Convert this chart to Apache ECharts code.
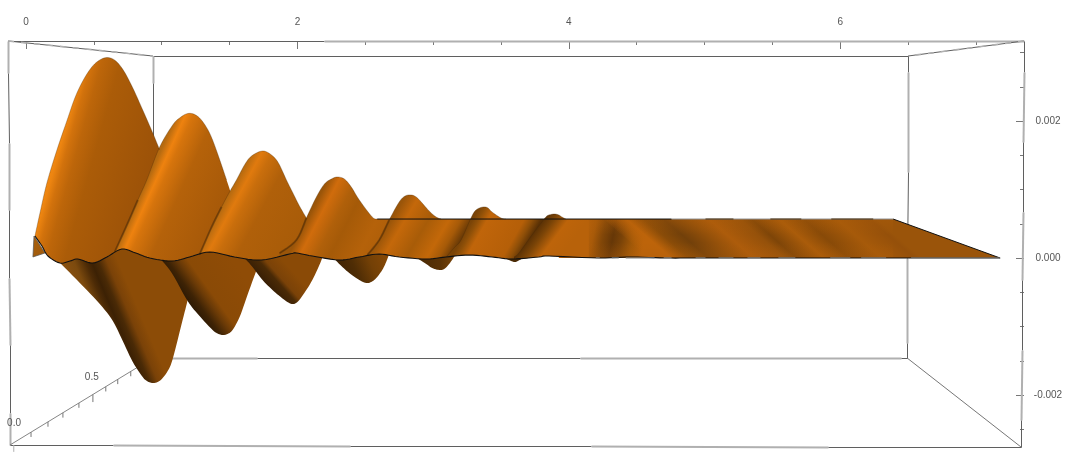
<!DOCTYPE html>
<html>
<head>
<meta charset="utf-8">
<script src="https://cdn.jsdelivr.net/npm/echarts@6/dist/echarts.min.js"></script>
<style>html,body{margin:0;padding:0;background:#fff}#c{width:1082px;height:465px}</style>
</head>
<body>
<div id="c"></div>
<script>
// ---- axis extents and ticks (x, and z in real units) ----
const xMin = -0.1326, xMax = 7.354;
const zMin = -0.002759, zMax = 0.003168;
const xMajorTicks = [0, 2, 4, 6];
const xMinorTicks = [0.5, 1, 1.5, 2.5, 3, 3.5, 4.5, 5, 5.5, 6.5, 7];
const zMajorTicks = [-0.002, 0, 0.002];
const zMinorTicks = [-0.0025, -0.0015, -0.001, -0.0005, 0.0005, 0.001, 0.0015, 0.0025, 0.003];

// ---- surface curves; x in axis units, z in thousandths ----
const centerX = [0.066,0.118,0.162,0.25,0.324,0.382,0.493,0.596,0.706,0.809,0.912,1.074,1.206,1.353,1.537,1.735,1.941,1.993,2.11,2.309,2.456,2.603,2.75,2.949,3.096,3.265,3.434,3.581,3.779,3.853,4.221,4.463,4.713,4.956,5.449,6.39,7.178];
const centerZ = [0.321,0.175,0.029,-0.073,-0.044,-0.015,-0.073,0.015,0.131,0.073,0,-0.044,0.015,0.088,0.015,-0.029,0.058,0.073,0.029,-0.029,0.015,0.058,0.015,-0.015,0.015,0.044,0.015,-0.015,0.015,0.029,0,0.015,0,0,0,0,0];

const crest1X = [0.066,0.103,0.154,0.228,0.301,0.36,0.419,0.485,0.544,0.603,0.662,0.721,0.787,0.86,0.934,0.985,1.06];
const crest1Z = [0.321,0.657,1.095,1.577,2.0,2.336,2.585,2.788,2.891,2.927,2.876,2.73,2.482,2.161,1.825,1.577,1.58];
const crest2X = [0.654,0.75,0.824,0.89,0.985,1.081,1.132,1.191,1.25,1.309,1.375,1.478,1.507,1.61];
const crest2Z = [0.09,0.511,0.847,1.139,1.62,1.942,2.044,2.109,2.088,1.971,1.723,1.139,0.964,0.964];
const crest3X = [1.279,1.368,1.441,1.5,1.551,1.61,1.662,1.743,1.809,1.86,1.919,1.963,2.015,2.066,2.199];
const crest3Z = [0.05,0.453,0.745,0.964,1.139,1.358,1.489,1.562,1.504,1.387,1.139,0.964,0.759,0.584,0.584];
const crest4X = [1.868,1.993,2.066,2.14,2.199,2.25,2.294,2.346,2.397,2.456,2.551,2.588,2.75];
const crest4Z = [0.07,0.263,0.584,0.891,1.08,1.153,1.182,1.153,1.036,0.847,0.599,0.569,0.569];
const crest5X = [2.515,2.603,2.676,2.75,2.794,2.838,2.875,2.912,2.971,3.022,3.059,3.338];
const crest5Z = [0.044,0.263,0.555,0.818,0.905,0.92,0.891,0.818,0.686,0.599,0.569,0.569];
const crest6X = [3.096,3.154,3.206,3.279,3.316,3.368,3.404,3.434,3.5,3.537,3.926];
const crest6Z = [0.015,0.146,0.263,0.584,0.701,0.745,0.73,0.672,0.584,0.569,0.569];
const crest7X = [3.596,3.632,3.728,3.801,3.838,3.868,3.897,3.926,3.949,3.978,4.147];
const crest7Z = [0.015,0.073,0.336,0.526,0.613,0.635,0.642,0.628,0.599,0.569,0.569];

const trough1X = [0.25,0.397,0.544,0.64,0.713,0.787,0.86,0.897,0.934,0.971,1.007,1.044,1.081,1.154,1.191,1.228,1.257];
const trough1Z = [-0.07,-0.365,-0.672,-0.92,-1.212,-1.518,-1.737,-1.803,-1.825,-1.81,-1.752,-1.65,-1.474,-0.905,-0.613,-0.248,0];
const trough2X = [0.985,1.074,1.191,1.279,1.375,1.412,1.449,1.485,1.522,1.574,1.632,1.699,1.735];
const trough2Z = [0,-0.219,-0.628,-0.847,-1.051,-1.102,-1.124,-1.109,-1.051,-0.861,-0.54,-0.175,0];
const trough3X = [1.61,1.669,1.743,1.816,1.868,1.926,1.963,2,2.051,2.11,2.162,2.191];
const trough3Z = [0,-0.131,-0.321,-0.467,-0.555,-0.642,-0.672,-0.642,-0.511,-0.321,-0.102,0.044];
const trough4X = [2.272,2.324,2.382,2.456,2.507,2.544,2.581,2.625,2.654,2.676];
const trough4Z = [-0.015,-0.117,-0.219,-0.321,-0.365,-0.35,-0.292,-0.175,-0.058,0.058];
const trough5X = [2.882,2.949,2.993,3.044,3.081,3.118,3.154];
const trough5Z = [0,-0.088,-0.146,-0.175,-0.161,-0.088,0.015];
const trough6X = [3.529,3.574,3.603,3.625,3.662];
const trough6Z = [0,-0.044,-0.058,-0.044,0];

const cornerTipX = [0.059,0.051,0.14];
const cornerTipZ = [0.321,0.015,0.073];
const flatMidX = [3.926,4.809,4.809,3.926];
const flatMidZ = [0.569,0.569,0,0];
const flatEndX = [4.257,6.39,7.178,4.588];
const flatEndZ = [0.569,0.569,0,0];
const flatVeilX = [4.12,6.39,6.39,4.12];
const flatVeilZ = [0.569,0.569,0,0];

// ---- box corners and the depth axis ----
const boxOuterX = [-0.132,7.354,7.332,-0.118];  // TL TR BR BL
const boxOuterZ = [3.168,3.168,-2.759,-2.73];
const boxBackX = [0.934,6.5,6.493,0.934];
const boxBackZ = [2.949,2.949,-1.46,-1.46];
const depthTickX = [0.037,0.162,0.272,0.39,0.493,0.588,0.676,0.772];
const depthTickZ = [-2.543,-2.393,-2.26,-2.117,-1.993,-1.878,-1.771,-1.656];
const depthLabels = ['0.0','0.5'];
const depthLabelX = [-0.088,0.485];
const depthLabelZ = [-2.409,-1.737];

// ---- pale dashes laid over the two long surface edges ----
const bottomPaleX = [4.199,4.228,4.316,4.368,4.419,4.632,4.699,4.757,4.934,5.007,5.103,5.213,5.316,5.412,5.544,5.669,5.926,6.074,6.154,6.338,6.522,7.178];
const topDarkX = [5.007,5.213,5.485,5.713,5.934,6.243];

// ---- styles ----
const FONT = '"Liberation Sans", Arial, sans-serif';
const TXT = '#555';
const DARK = '#5f5f5f', LIGHT = '#b0b0b0';

function zip(xs,zs){ return xs.map((x,i)=>[x,zs[i]]); }
// Catmull-Rom drawing of the read points, so the outline is a curve and not a chain of chords
function curve(pts){
  const out=[]; const n=pts.length;
  for(let i=0;i<n-1;i++){
    const p0=pts[Math.max(i-1,0)],p1=pts[i],p2=pts[i+1],p3=pts[Math.min(i+2,n-1)];
    for(let k=0;k<6;k++){
      const t=k/6,t2=t*t,t3=t2*t;
      out.push([0,1].map(d=>.5*(2*p1[d]+(p2[d]-p0[d])*t+(2*p0[d]-5*p1[d]+4*p2[d]-p3[d])*t2+(3*p1[d]-p0[d]-3*p2[d]+p3[d])*t3)));
    }
  }
  out.push(pts[n-1]);
  return out;
}
const centerCurve = curve(zip(centerX,centerZ));
function centerAt(x){
  for(let i=0;i<centerCurve.length-1;i++){
    const a=centerCurve[i],b=centerCurve[i+1];
    if(x>=a[0]&&x<=b[0]) return a[1]+(x-a[0])/((b[0]-a[0])||1)*(b[1]-a[1]);
  }
  return 0;
}
function upperPoly(xs,zs){
  const raw=zip(xs,zs), cut=raw.pop();
  const pts=curve(raw); pts.push(cut);
  const a=xs[0], b=cut[0];
  pts.push([b,centerAt(b)]);
  for(let i=centerCurve.length-1;i>=0;i--) if(centerCurve[i][0]<b && centerCurve[i][0]>a) pts.push(centerCurve[i]);
  pts.push([a,centerAt(a)]);
  return pts;
}
function lowerPoly(xs,zs){
  const pts=curve(zip(xs,zs));
  pts.push([xs[xs.length-1],0.34]); pts.push([xs[0],0.34]);
  return pts;
}

// shaded patches: points, gradient anchors [x0,z0,x1,z1], colour stops
const patches = [
  {p:lowerPoly(trough1X,trough1Z), g:[0.25,-0.073,0.791,0.382],
   s:[[0,'#8c5210'],[.17,'#7c4a0e'],[.3,'#4d2b06'],[.37,'#3c2104'],[.45,'#4a2a06'],[.55,'#7a4208'],[.68,'#8c4c07'],[1,'#8c4c07']]},
  {p:lowerPoly(trough2X,trough2Z), g:[0.985,-0.058,1.343,0.453],
   s:[[0,'#2e1a04'],[.12,'#3e2305'],[.27,'#6a3a07'],[.4,'#8a4a06'],[1,'#8f4c06']]},
  {p:lowerPoly(trough3X,trough3Z), g:[1.61,0,1.941,0.584],
   s:[[0,'#3a2005'],[.15,'#4a2a06'],[.23,'#7a4208'],[.45,'#8a4a06'],[1,'#8a4a06']]},
  {p:lowerPoly(trough4X,trough4Z), g:[2.272,-0.058,2.64,0.263],
   s:[[0,'#3f2304'],[.3,'#4f2d05'],[.6,'#734006'],[1,'#8a4a06']]},
  {p:lowerPoly(trough5X,trough5Z), g:[2.882,-0.058,3.162,-0.058],
   s:[[0,'#4a2a05'],[.6,'#5a3205'],[1,'#7a4407']]},
  {p:lowerPoly(trough6X,trough6Z), g:[3.529,0,3.662,0],
   s:[[0,'#4a2a05'],[1,'#4a2a05']]},
  {p:zip(cornerTipX,cornerTipZ), g:[0.05,0.3,0.14,0.05], s:[[0,'#a9600c'],[1,'#a05a0c']], edge:'#555'},
  {p:zip(flatMidX,flatMidZ), g:[4.11,0.292,4.544,0.117],
   s:[[0,'#b8620a'],[.15,'#a85a09'],[.3,'#824708'],[.47,'#663707'],[.62,'#7a4308'],[.8,'#a05808'],[1,'#bd640a']]},
  {p:zip(flatEndX,flatEndZ), g:[4.404,0.292,5.272,2.277],
   s:[[0,'rgba(189,100,10,0)'],[.09,'#bd640a'],[.153,'#8a4c08'],[.225,'#72400a'],[.32,'#95510a'],[.389,'#ad5c0b'],[.502,'#95510a'],[.545,'#7e4508'],[.644,'#aa5c0a'],[.735,'#884a08'],[.855,'#a65a0a'],[.975,'#95500a'],[1,'#9a540a']]},
  {p:zip(flatVeilX,flatVeilZ), g:[5,0.569,5,0],
   s:[[0,'rgba(176,94,10,0.3)'],[.4,'rgba(176,94,10,0)'],[.6,'rgba(176,94,10,0)'],[1,'rgba(176,94,10,0.3)']]},
  {p:upperPoly(crest1X,crest1Z), g:[0.147,1.139,0.853,0.745],
   s:[[0,'#f58a12'],[.05,'#ec8410'],[.12,'#d2720c'],[.22,'#bd660a'],[.4,'#ab5c08'],[1,'#9c5208']]},
  {p:upperPoly(crest2X,crest2Z), g:[0.721,0.38,1.39,-0.219],
   s:[[0,'#b56a10'],[.08,'#ee820f'],[.15,'#d6740c'],[.35,'#b5620a'],[1,'#a05508']]},
  {p:upperPoly(crest3X,crest3Z), g:[1.368,0.453,2.015,-0.234],
   s:[[0,'#b56a10'],[.09,'#e07a0e'],[.18,'#c96e0c'],[.36,'#b0600a'],[1,'#a55a08']]},
  {p:upperPoly(crest4X,crest4Z), g:[1.993,0.263,2.647,-0.409],
   s:[[0,'#9a5509'],[.1,'#d06c0c'],[.25,'#b0600a'],[.37,'#a55a08'],[.62,'#b5620a'],[1,'#a65a08']]},
  {p:upperPoly(crest5X,crest5Z), g:[2.603,0.263,3.235,-0.482],
   s:[[0,'#9a5509'],[.12,'#c4680a'],[.32,'#a85c08'],[.5,'#c36809'],[.6,'#a65a08'],[.7,'#6a3a06'],[1,'#6a3a06']]},
  {p:upperPoly(crest6X,crest6Z), g:[3.206,0.263,3.846,-0.453],
   s:[[0,'#7a4407'],[.05,'#8f5008'],[.13,'#c0650a'],[.45,'#b55f08'],[.52,'#8f4f08'],[.6,'#5a3105'],[1,'#5a3105']]},
  {p:upperPoly(crest7X,crest7Z), g:[3.728,0.336,4.199,-0.365],
   s:[[0,'#5a3105'],[.1,'#7a4407'],[.25,'#bd640a'],[.45,'#b8620a'],[1,'#b8620a']]}
];

// box strokes: each edge alternates dark and pale pieces at the given fractions
const boxEdges = [
  {a:[boxOuterX[0],boxOuterZ[0]], b:[boxOuterX[1],boxOuterZ[1]], t:[.311], first:'dark'},
  {a:[boxOuterX[0],boxOuterZ[0]], b:[boxOuterX[3],boxOuterZ[3]], t:[.079,.252,.418,.587,.752,.921], first:'light'},
  {a:[boxOuterX[1],boxOuterZ[1]], b:[boxOuterX[2],boxOuterZ[2]], t:[.076,.249,.421,.589,.761,.933], first:'dark'},
  {a:[boxOuterX[3],boxOuterZ[3]], b:[boxOuterX[2],boxOuterZ[2]], t:[.102,.336,.575,.809], first:'dark'},
  {a:[boxBackX[0],boxBackZ[0]], b:[boxBackX[1],boxBackZ[1]], t:[], first:'dark'},
  {a:[boxBackX[1],boxBackZ[1]], b:[boxBackX[2],boxBackZ[2]], t:[.053,.384,.669,.95], first:'dark'},
  {a:[boxBackX[0],boxBackZ[0]], b:[boxBackX[3],boxBackZ[3]], t:[.089], first:'light'},
  {a:[boxBackX[3],boxBackZ[3]], b:[boxBackX[2],boxBackZ[2]], t:[.138,.566,.992], first:'light'}
];
const boxStrokes = [];
boxEdges.forEach(e=>{
  const ts=[0,...e.t,1]; let k=e.first;
  for(let i=0;i<ts.length-1;i++){
    const A=[e.a[0]+ts[i]*(e.b[0]-e.a[0]),e.a[1]+ts[i]*(e.b[1]-e.a[1])];
    const B=[e.a[0]+ts[i+1]*(e.b[0]-e.a[0]),e.a[1]+ts[i+1]*(e.b[1]-e.a[1])];
    boxStrokes.push({p:[A,B],c:k==='dark'?DARK:LIGHT,w:k==='dark'?1:2,snap:true});
    k=k==='dark'?'light':'dark';
  }
});
[[0,0],[1,1]].forEach(([o,b])=>{
  boxStrokes.push({p:[[boxOuterX[o],boxOuterZ[o]],[boxBackX[b],boxBackZ[b]]],c:DARK,w:1});
  boxStrokes.push({p:[[boxOuterX[o],boxOuterZ[o]],[boxBackX[b],boxBackZ[b]]],c:LIGHT,w:1.6,dash:[6,7]});
});
boxStrokes.push({p:[[boxOuterX[2],boxOuterZ[2]],[boxBackX[2],boxBackZ[2]]],c:'#666',w:.9});
boxStrokes.push({p:[[boxOuterX[3],boxOuterZ[3]],[boxBackX[3],boxBackZ[3]]],c:'#777',w:.9});
depthTickX.forEach((x,i)=>{
  const long = i===4;
  boxStrokes.push({p:[[x,depthTickZ[i]],[x,depthTickZ[i]-(long?.11:.07)]],c:'#777',w:1});
});
boxStrokes.push({p:[[-0.09,-2.73],[-0.09,-2.83]],c:LIGHT,w:1});

// surface edges
const edgeStrokes = [];
[[crest1X,crest1Z,1.0],[crest2X,crest2Z,1.5],[crest3X,crest3Z,2.07],[crest4X,crest4Z,2.59],[crest5X,crest5Z,3.06],[crest6X,crest6Z,3.54],[crest7X,crest7Z,3.98]].forEach(([xs,zs,end])=>{
  const pts=curve(zip(xs,zs).filter(q=>q[0]<=end));
  edgeStrokes.push({p:pts,c:'rgba(70,40,8,0.38)',w:.8});
});
// soft shade along the foot of the creases
[[crest2X,crest2Z],[crest3X,crest3Z],[crest4X,crest4Z],[crest5X,crest5Z]].forEach(([xs,zs])=>{
  const pts=curve(zip(xs,zs).slice(0,3));
  edgeStrokes.push({p:pts,c:'rgba(60,32,4,0.4)',w:2});
});
edgeStrokes.push({p:centerCurve,c:'#111',w:1.1});
edgeStrokes.push({p:[[2.588,0.569],[4.757,0.569]],c:'#111',w:1});
edgeStrokes.push({p:[[4.757,0.569],[6.39,0.569]],c:'#8c8c8c',w:1});
for(let i=0;i<topDarkX.length;i+=2) edgeStrokes.push({p:[[topDarkX[i],0.569],[topDarkX[i+1],0.569]],c:'#4a3010',w:1});
edgeStrokes.push({p:[[6.39,0.569],[7.178,0]],c:'#111',w:1});
for(let i=0;i<bottomPaleX.length;i+=2) edgeStrokes.push({p:[[bottomPaleX[i],0],[bottomPaleX[i+1],0]],c:'#8c8c8c',w:1.1});

const toCoord=(api,q)=>api.coord([q[0],q[1]*1e-3]);

function strokeItem(list){
  return function(params,api){
    const s=list[params.dataIndex];
    let pts=s.p.map(q=>toCoord(api,q));
    if(s.snap) pts=pts.map(q=>[Math.round(q[0])+.5,Math.round(q[1])+.5]);
    return {type:'polyline',shape:{points:pts},silent:true,
      style:{stroke:s.c,lineWidth:s.w,fill:null,lineDash:s.dash||null}};
  };
}
function patchItem(params,api){
  const s=patches[params.dataIndex];
  const a=toCoord(api,[s.g[0],s.g[1]]), b=toCoord(api,[s.g[2],s.g[3]]);
  const grad=new echarts.graphic.LinearGradient(a[0],a[1],b[0],b[1],
    s.s.map(t=>({offset:t[0],color:t[1]})),true);
  return {type:'polygon',shape:{points:s.p.map(q=>toCoord(api,q))},silent:true,
    style:{fill:grad,stroke:s.edge||null,lineWidth:s.edge?.7:0}};
}
function labelItem(params,api){
  const i=params.dataIndex, c=toCoord(api,[depthLabelX[i],depthLabelZ[i]]);
  return {type:'text',silent:true,style:{text:depthLabels[i],x:c[0],y:c[1],align:'center',verticalAlign:'middle',
    fontSize:10,fontFamily:FONT,fill:TXT}};
}
const idx=a=>a.map((_,i)=>[i]);
const tickStyle={lineStyle:{color:'#777',width:1}};
const base={type:'value',splitLine:{show:false},axisLine:{show:false,onZero:false}};

const option={
  animation:false,
  backgroundColor:'#fff',
  grid:{left:8,top:41,width:1016,height:406,containLabel:false},
  xAxis:[
    {...base,position:'top',min:xMin,max:xMax,
     axisTick:{show:true,inside:true,length:4,customValues:xMinorTicks,...tickStyle},
     axisLabel:{show:false}},
    {...base,position:'top',min:xMin,max:xMax,
     axisTick:{show:true,inside:true,length:8,customValues:xMajorTicks,...tickStyle},
     axisLabel:{show:true,customValues:xMajorTicks,margin:14,fontSize:10,color:TXT,fontFamily:FONT,formatter:v=>String(v)}}
  ],
  yAxis:[
    {...base,position:'right',min:zMin,max:zMax,
     axisTick:{show:true,inside:true,length:4,customValues:zMinorTicks,...tickStyle},
     axisLabel:{show:false}},
    {...base,position:'right',min:zMin,max:zMax,
     axisTick:{show:true,inside:true,length:8,customValues:zMajorTicks,...tickStyle},
     axisLabel:{show:true,customValues:zMajorTicks,margin:24,align:'center',fontSize:10,color:TXT,fontFamily:FONT,formatter:v=>v.toFixed(3)}}
  ],
  series:[
    {type:'custom',name:'box',coordinateSystem:'cartesian2d',renderItem:strokeItem(boxStrokes),data:idx(boxStrokes),clip:false,silent:true},
    {type:'custom',name:'depth labels',coordinateSystem:'cartesian2d',renderItem:labelItem,data:idx(depthLabels),clip:false,silent:true},
    {type:'custom',name:'surface',coordinateSystem:'cartesian2d',renderItem:patchItem,data:idx(patches),clip:false,silent:true},
    {type:'custom',name:'edges',coordinateSystem:'cartesian2d',renderItem:strokeItem(edgeStrokes),data:idx(edgeStrokes),clip:false,silent:true}
  ]
};
echarts.init(document.getElementById('c'),null,{renderer:'canvas'}).setOption(option);
</script>
</body>
</html>
